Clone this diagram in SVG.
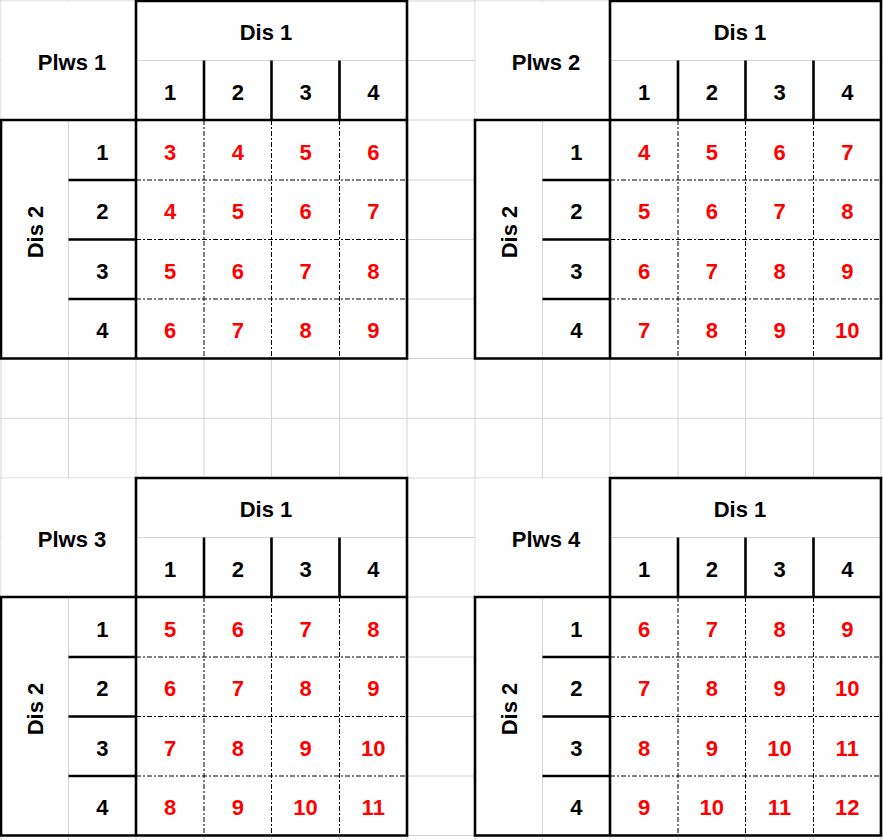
<svg xmlns="http://www.w3.org/2000/svg" xmlns:xlink="http://www.w3.org/1999/xlink" width="883" height="840" viewBox="0 0 883 840">
<style>
.grid{stroke:#d4d4d4;stroke-width:1;fill:none}
.thick{stroke:#000;stroke-width:2.6;fill:none;stroke-linecap:square;stroke-linejoin:miter}
.sep{stroke:#000;stroke-width:2.6;fill:none;stroke-linecap:butt}
.dd{stroke:#000;stroke-width:1;fill:none;stroke-dasharray:5 2 2 2}
text{font-family:"Liberation Sans",Arial,sans-serif;font-weight:bold;font-size:22px;text-anchor:middle}
.h{fill:#000}
.v{fill:#ff0000}
</style>
<defs>
<g id="frame">
<rect x="0.5" y="0.5" width="134" height="118" fill="#fff"/>
<rect x="135" y="-1" width="271" height="60" fill="#fff"/>
<rect x="-1" y="119" width="68" height="238.5" fill="#fff"/>
<rect x="135" y="119" width="271" height="238.5" fill="#fff"/>
<path class="dd" d="M203,119V357.5M270.5,119V357.5M338.5,119V357.5M135,179H406M135,238.5H406M135,298H406"/>
<path class="thick" d="M135,0H406V357.5H0V119H406M135,0V357.5"/>
<path class="sep" d="M203,59.5V119M270.5,59.5V119M338.5,59.5V119M67.5,179H135M67.5,238.5H135M67.5,298H135"/>
</g>
</defs>
<rect width="883" height="840" fill="#fff"/>
<path class="grid" d="M1,0V840M68.5,0V840M136,0V840M204,0V840M271.5,0V840M339.5,0V840M407,0V840M475,0V840M542.5,0V840M610,0V840M678,0V840M745.5,0V840M813.5,0V840M881,0V840M0,1H883M0,60.5H883M0,120H883M0,180H883M0,239.5H883M0,299H883M0,358.5H883M0,418.3H883M0,478H883M0,537.5H883M0,597H883M0,657H883M0,716.5H883M0,776H883M0,835.5H883"/>

<g id="table1" transform="translate(1,1)">
<use xlink:href="#frame" href="#frame"/>
<text class="h" x="71" y="69">Plws 1</text>
<text class="h" x="265" y="39">Dis 1</text>
<text class="h" transform="translate(42,231) rotate(-90)">Dis 2</text>
<text class="h" x="169" y="98.75">1</text><text class="h" x="236.75" y="98.75">2</text><text class="h" x="304.5" y="98.75">3</text><text class="h" x="372.25" y="98.75">4</text>
<text class="h" x="101.25" y="158.5">1</text><text class="h" x="101.25" y="218.25">2</text><text class="h" x="101.25" y="277.75">3</text><text class="h" x="101.25" y="337.25">4</text>
<text class="v" x="169" y="158.5">3</text><text class="v" x="236.75" y="158.5">4</text><text class="v" x="304.5" y="158.5">5</text><text class="v" x="372.25" y="158.5">6</text>
<text class="v" x="169" y="218.25">4</text><text class="v" x="236.75" y="218.25">5</text><text class="v" x="304.5" y="218.25">6</text><text class="v" x="372.25" y="218.25">7</text>
<text class="v" x="169" y="277.75">5</text><text class="v" x="236.75" y="277.75">6</text><text class="v" x="304.5" y="277.75">7</text><text class="v" x="372.25" y="277.75">8</text>
<text class="v" x="169" y="337.25">6</text><text class="v" x="236.75" y="337.25">7</text><text class="v" x="304.5" y="337.25">8</text><text class="v" x="372.25" y="337.25">9</text>
</g>

<g id="table2" transform="translate(475,1)">
<use xlink:href="#frame" href="#frame"/>
<text class="h" x="71" y="69">Plws 2</text>
<text class="h" x="265" y="39">Dis 1</text>
<text class="h" transform="translate(42,231) rotate(-90)">Dis 2</text>
<text class="h" x="169" y="98.75">1</text><text class="h" x="236.75" y="98.75">2</text><text class="h" x="304.5" y="98.75">3</text><text class="h" x="372.25" y="98.75">4</text>
<text class="h" x="101.25" y="158.5">1</text><text class="h" x="101.25" y="218.25">2</text><text class="h" x="101.25" y="277.75">3</text><text class="h" x="101.25" y="337.25">4</text>
<text class="v" x="169" y="158.5">4</text><text class="v" x="236.75" y="158.5">5</text><text class="v" x="304.5" y="158.5">6</text><text class="v" x="372.25" y="158.5">7</text>
<text class="v" x="169" y="218.25">5</text><text class="v" x="236.75" y="218.25">6</text><text class="v" x="304.5" y="218.25">7</text><text class="v" x="372.25" y="218.25">8</text>
<text class="v" x="169" y="277.75">6</text><text class="v" x="236.75" y="277.75">7</text><text class="v" x="304.5" y="277.75">8</text><text class="v" x="372.25" y="277.75">9</text>
<text class="v" x="169" y="337.25">7</text><text class="v" x="236.75" y="337.25">8</text><text class="v" x="304.5" y="337.25">9</text><text class="v" x="372.25" y="337.25">10</text>
</g>

<g id="table3" transform="translate(1,478)">
<use xlink:href="#frame" href="#frame"/>
<text class="h" x="71" y="69">Plws 3</text>
<text class="h" x="265" y="39">Dis 1</text>
<text class="h" transform="translate(42,231) rotate(-90)">Dis 2</text>
<text class="h" x="169" y="98.75">1</text><text class="h" x="236.75" y="98.75">2</text><text class="h" x="304.5" y="98.75">3</text><text class="h" x="372.25" y="98.75">4</text>
<text class="h" x="101.25" y="158.5">1</text><text class="h" x="101.25" y="218.25">2</text><text class="h" x="101.25" y="277.75">3</text><text class="h" x="101.25" y="337.25">4</text>
<text class="v" x="169" y="158.5">5</text><text class="v" x="236.75" y="158.5">6</text><text class="v" x="304.5" y="158.5">7</text><text class="v" x="372.25" y="158.5">8</text>
<text class="v" x="169" y="218.25">6</text><text class="v" x="236.75" y="218.25">7</text><text class="v" x="304.5" y="218.25">8</text><text class="v" x="372.25" y="218.25">9</text>
<text class="v" x="169" y="277.75">7</text><text class="v" x="236.75" y="277.75">8</text><text class="v" x="304.5" y="277.75">9</text><text class="v" x="372.25" y="277.75">10</text>
<text class="v" x="169" y="337.25">8</text><text class="v" x="236.75" y="337.25">9</text><text class="v" x="304.5" y="337.25">10</text><text class="v" x="372.25" y="337.25">11</text>
</g>

<g id="table4" transform="translate(475,478)">
<use xlink:href="#frame" href="#frame"/>
<text class="h" x="71" y="69">Plws 4</text>
<text class="h" x="265" y="39">Dis 1</text>
<text class="h" transform="translate(42,231) rotate(-90)">Dis 2</text>
<text class="h" x="169" y="98.75">1</text><text class="h" x="236.75" y="98.75">2</text><text class="h" x="304.5" y="98.75">3</text><text class="h" x="372.25" y="98.75">4</text>
<text class="h" x="101.25" y="158.5">1</text><text class="h" x="101.25" y="218.25">2</text><text class="h" x="101.25" y="277.75">3</text><text class="h" x="101.25" y="337.25">4</text>
<text class="v" x="169" y="158.5">6</text><text class="v" x="236.75" y="158.5">7</text><text class="v" x="304.5" y="158.5">8</text><text class="v" x="372.25" y="158.5">9</text>
<text class="v" x="169" y="218.25">7</text><text class="v" x="236.75" y="218.25">8</text><text class="v" x="304.5" y="218.25">9</text><text class="v" x="372.25" y="218.25">10</text>
<text class="v" x="169" y="277.75">8</text><text class="v" x="236.75" y="277.75">9</text><text class="v" x="304.5" y="277.75">10</text><text class="v" x="372.25" y="277.75">11</text>
<text class="v" x="169" y="337.25">9</text><text class="v" x="236.75" y="337.25">10</text><text class="v" x="304.5" y="337.25">11</text><text class="v" x="372.25" y="337.25">12</text>
</g>
</svg>
